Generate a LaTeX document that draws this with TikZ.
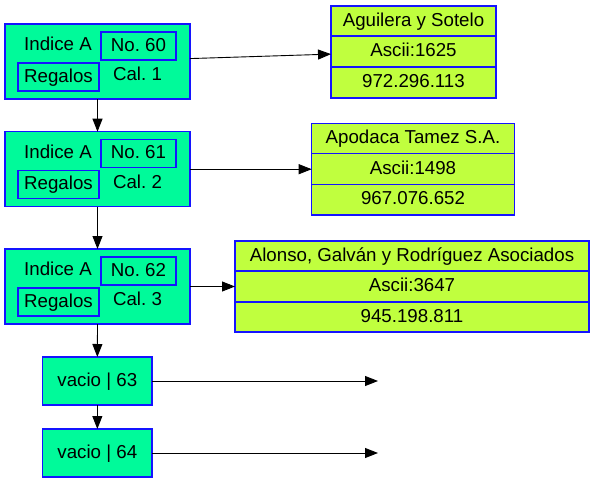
\documentclass[tikz,border=0pt]{standalone}
\usepackage{fontspec}
\setmainfont{Liberation Sans}
\usetikzlibrary{arrows.meta,calc}
\definecolor{gfill}{RGB}{0,250,154}
\definecolor{rfill}{RGB}{192,255,62}
\definecolor{bord}{RGB}{20,20,255}
\frenchspacing
\begin{document}
\begin{tikzpicture}[x=1pt,y=-1pt,
  every node/.style={font=\fontsize{18.7}{22}\selectfont\frenchspacing, inner sep=0pt, outer sep=0pt,
    text height=13.5pt, text depth=3.5pt},
  box/.style={draw=bord, line width=1.1pt, rectangle, anchor=north west},
  gbox/.style={box, fill=gfill},
  rbox/.style={box, fill=rfill},
  lbl/.style={anchor=center},
  arr/.style={-{Triangle[length=13pt,width=10pt]}, line width=0.9pt, draw=black}
]
\useasboundingbox (0,0) rectangle (595,483);

% main nodes with two inner boxes
\foreach \i/\t/\n in {1/24/60, 2/131.7/61, 3/249/62}{
  \node[gbox, minimum width=185pt, minimum height=75pt] (a\i) at (5,\t) {};
  \node[box, minimum width=75pt, minimum height=28pt] (n\i) at (101,{\t+8}) {No. \n};
  \node[box, minimum width=81pt, minimum height=28pt] (g\i) at (18,{\t+39}) {Regalos};
  \node[lbl] (i\i) at (58,{\t+21.5}) {Indice A};
  \node[lbl] (c\i) at (137.5,{\t+51.5}) {Cal. \i};
}

% empty nodes
\node[gbox, minimum width=109.3pt, minimum height=48pt] (v4) at (42.7,357) {vacio | 63};
\node[gbox, minimum width=109.3pt, minimum height=48pt] (v5) at (42.7,429) {vacio | 64};
\coordinate (e4) at (378,381);
\coordinate (e5) at (378,453);

% records
\node[rbox, minimum width=165pt, minimum height=30pt] (r1a) at (331,6) {Aguilera y Sotelo};
\node[rbox, minimum width=165pt, minimum height=31pt] (r1b) at (331,36) {Ascii:1625};
\node[rbox, minimum width=165pt, minimum height=31pt] (r1c) at (331,67) {972.296.113};

\node[rbox, minimum width=202.6pt, minimum height=30.4pt] (r2a) at (311.7,123.3) {Apodaca Tamez S.A.};
\node[rbox, minimum width=202.6pt, minimum height=31pt] (r2b) at (311.7,153.7) {Ascii:1498};
\node[rbox, minimum width=202.6pt, minimum height=30.3pt] (r2c) at (311.7,184.7) {967.076.652};

\node[rbox, minimum width=354pt, minimum height=30pt] (r3a) at (235,241) {Alonso, Galván y Rodríguez Asociados};
\node[rbox, minimum width=354pt, minimum height=31pt] (r3b) at (235,271) {Ascii:3647};
\node[rbox, minimum width=354pt, minimum height=30pt] (r3c) at (235,302) {945.198.811};

% connectors
\draw[arr] (a1) -- (a2);
\draw[arr] (a2) -- (a3);
\draw[arr] (a3.south) -- (v4.north);
\draw[arr] (v4) -- (v5);
\draw[arr] (a1) -- (r1b);
\draw[arr] (a2) -- (r2b);
\draw[arr] (a3) -- (r3b);
\draw[arr] (v4) -- (e4);
\draw[arr] (v5) -- (e5);
\end{tikzpicture}
\end{document}
